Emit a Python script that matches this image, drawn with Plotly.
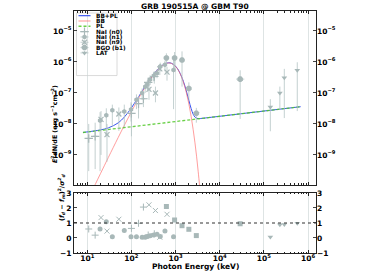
import plotly.graph_objects as go

# ---------------- model curves ----------------
E_tot = [8, 10, 15, 20, 30, 50, 70, 100, 150, 200, 300, 400, 500, 600, 700, 800,
         1000, 1200, 1500, 1750, 2000, 2250, 2500, 2750, 3000, 3250, 3500, 4000, 1e4, 1e5, 6.8e5]
F_tot = [5.32e-9, 5.53e-9, 6.0e-9, 6.43e-9, 7.46e-9, 1.08e-8, 1.70e-8, 3.30e-8, 8.07e-8, 1.54e-7,
         3.59e-7, 5.86e-7, 7.78e-7, 8.98e-7, 9.39e-7, 9.13e-7, 7.30e-7, 5.01e-7, 2.38e-7, 1.17e-7,
         5.77e-8, 3.15e-8, 2.07e-8, 1.67e-8, 1.53e-8, 1.49e-8, 1.49e-8, 1.52e-8, 1.77e-8, 2.61e-8, 3.6e-8]
E_bb = [8, 10, 15, 20, 30, 50, 70, 100, 150, 200, 300, 400, 500, 600, 700, 800,
        1000, 1200, 1500, 1750, 2000, 2250, 2500, 2750, 3000, 3250, 3500, 4000]
F_bb = [1.67e-11, 3.24e-11, 1.08e-10, 2.52e-10, 8.26e-10, 3.61e-9, 9.34e-9, 2.49e-8, 7.2e-8, 1.45e-7,
        3.49e-7, 5.76e-7, 7.67e-7, 8.87e-7, 9.28e-7, 9.01e-7, 7.18e-7, 4.89e-7, 2.25e-7, 1.04e-7,
        4.42e-8, 1.77e-8, 6.7e-9, 2.45e-9, 8.7e-10, 2.97e-10, 1.0e-10, 1.07e-11]
E_pl = [8, 6.8e5]
F_pl = [5.3e-9, 3.6e-8]

# ---------------- data points ----------------
# NaI (n0)
n0_E = [10.8, 15.1, 100, 145, 187, 240, 330]
n0_Elo = [9.5, 13.5, 90, 132, 170, 220, 300]
n0_Ehi = [12.2, 16.8, 111, 158, 205, 262, 360]
n0_F = [3.4e-9, 4.0e-9, 2.2e-8, 4.5e-8, 6.5e-8, 2.2e-7, 3.4e-7]
n0_Flo = [3.0e-10, 3.5e-10, 4e-9, 1.5e-8, 3.5e-8, 1.2e-7, 2.0e-7]
n0_Fhi = [1.0e-8, 1.1e-8, 4.5e-8, 8e-8, 1e-7, 3.2e-7, 5e-7]
n0_res = [0.6, 0.19, 0.64, 0.98, 2.06, 0.2, 0.28]
# NaI (n1)
n1_E = [19.5, 27, 37, 69, 98, 130, 175, 205, 230, 265, 320, 380, 450, 575, 900]
n1_Elo = [17.5, 24.5, 33.5, 62, 89, 118, 160, 188, 210, 242, 292, 346, 410, 525, 800]
n1_Ehi = [21.5, 29.5, 40.5, 76, 107, 142, 190, 222, 250, 288, 348, 414, 490, 625, 1000]
n1_F = [1.3e-8, 1.9e-8, 2.75e-8, 2.5e-8, 2.9e-8, 6e-8, 1.0e-7, 1.6e-7, 1.9e-7, 2.7e-7, 3.6e-7, 4.3e-7,
        7.2e-7, 8.1e-7, 5.5e-7]
n1_Flo = [3e-10, 4e-9, 8e-9, 8e-9, 1.2e-8, 3e-8, 6e-8, 1.0e-7, 1.2e-7, 1.8e-7, 2.4e-7, 3.0e-7, 5e-7, 5e-7, 3e-8]
n1_Fhi = [2.4e-8, 3.2e-8, 4.2e-8, 4.2e-8, 5e-8, 9e-8, 1.4e-7, 2.2e-7, 2.6e-7, 3.7e-7, 4.8e-7, 5.8e-7,
          9.5e-7, 1.1e-6, 1.2e-6]
n1_res = [0.6, 1.09, 0.08, 0.5, 0.08, 0.08, 0.05, 0.05, 0.1, 0.15, 0.2, 0.25, 0.1, 0.46, 0.08]
# NaI (n9)
n9_E = [20.5, 28, 52, 250, 350, 440, 640]
n9_Elo = [18.5, 25.5, 47, 228, 320, 400, 580]
n9_Ehi = [22.5, 30.5, 57, 272, 380, 480, 700]
n9_F = [1.4e-8, 4.5e-9, 2.1e-8, 1.3e-7, 1.0e-7, 6.0e-7, 4.7e-7]
n9_Flo = [1e-9, 6e-10, 6e-9, 6e-8, 5e-8, 3.8e-7, 2.5e-7]
n9_Fhi = [2.6e-8, 1.0e-8, 3.4e-8, 1.9e-7, 1.6e-7, 8.5e-7, 7e-7]
n9_res = [1.36, 0.46, 1.25, 2.21, 1.83, 0.05, 1.58]
# BGO (b1)
b1_E = [620, 950, 1400, 2000, 2950, 2.9e4]
b1_Elo = [540, 830, 1230, 1760, 2600, 2.35e4]
b1_Ehi = [700, 1080, 1590, 2270, 3350, 3.6e4]
b1_F = [1.35e-6, 1.35e-6, 1.15e-6, 1.4e-7, 2.2e-8, 2.8e-7]
b1_Flo = [8.5e-7, 6e-7, 1.6e-7, 6e-8, 1.1e-8, 1.45e-8]
b1_Fhi = [1.9e-6, 2.1e-6, 2.2e-6, 2.2e-7, 3.3e-8, 5.4e-7]
b1_res = [2.1, 1.2, 0.82, 0.58, 0.16, 0.95]
# LAT
lat_E = [1.4e5, 2.3e5, 2.9e5, 5.7e5]
lat_F = [3.5e-8, 1.0e-7, 3.1e-7, 5.4e-7]
lat_Flo = [5.8e-9, 2.9e-8, 1.55e-8, 2.6e-8]
lat_Fhi = [6.3e-8, 1.6e-7, 6.0e-7, 9.8e-7]
lat_res = [0.07, 0.88, 0.9, 0.98]

x_ticks = [1e1, 1e2, 1e3, 1e4, 1e5, 1e6]
x_ticktext = ['10<sup>1</sup>', '10<sup>2</sup>', '10<sup>3</sup>', '10<sup>4</sup>', '10<sup>5</sup>', '10<sup>6</sup>']
y_ticks = [1e-9, 1e-8, 1e-7, 1e-6, 1e-5]
y_ticktext = ['10<sup>−9</sup>', '10<sup>−8</sup>', '10<sup>−7</sup>', '10<sup>−6</sup>', '10<sup>−5</sup>']
r_ticks = [-1, 0, 1, 2, 3]
r_ticktext = ['−1', '0', '1', '2', '3']

legend_names = ['BB+PL', 'BB', 'PL', 'NaI (n0)', 'NaI (n1)', 'NaI (n9)', 'BGO (b1)', 'LAT']

MC = 'rgb(168,184,184)'
EC = 'rgba(175,192,192,0.75)'
FONT = 'DejaVu Sans'
C_TOT = '#3a55f0'
C_BB = 'rgba(255,110,110,0.75)'
C_PL = 'rgba(80,200,40,0.85)'

fig = go.Figure()


def add_data(E, F, Flo, Fhi, symbol, size, Elo=None, Ehi=None, mline=0):
    ex = None
    if Elo is not None:
        ex = dict(type='data', symmetric=False,
                  array=[h - e for h, e in zip(Ehi, E)],
                  arrayminus=[e - l for e, l in zip(E, Elo)],
                  color=EC, thickness=1, width=0)
    fig.add_trace(go.Scatter(
        x=E, y=F, mode='markers',
        marker=dict(symbol=symbol, size=size, color=MC, line=dict(width=mline, color=MC)),
        error_y=dict(type='data', symmetric=False,
                     array=[h - f for h, f in zip(Fhi, F)],
                     arrayminus=[f - l for f, l in zip(F, Flo)],
                     color=EC, thickness=1, width=0),
        error_x=ex, xaxis='x', yaxis='y'))


# model lines
fig.add_trace(go.Scatter(x=E_tot, y=F_tot, mode='lines',
                         line=dict(color=C_TOT, width=1, shape='spline'), xaxis='x', yaxis='y'))
fig.add_trace(go.Scatter(x=E_bb, y=F_bb, mode='lines',
                         line=dict(color=C_BB, width=0.9, shape='spline'), xaxis='x', yaxis='y'))
fig.add_trace(go.Scatter(x=E_pl, y=F_pl, mode='lines',
                         line=dict(color=C_PL, width=1.3, dash='3px,2px'), xaxis='x', yaxis='y'))

SYM = dict(n0=('cross-thin', 6, 1.2), n1=('hexagon', 5, 0), n9=('x-thin', 5, 1.2),
           b1=('octagon', 6, 0), lat=('triangle-down', 5, 0))

add_data(n0_E, n0_F, n0_Flo, n0_Fhi, *SYM['n0'][:2], n0_Elo, n0_Ehi, mline=SYM['n0'][2])
add_data(n1_E, n1_F, n1_Flo, n1_Fhi, *SYM['n1'][:2], n1_Elo, n1_Ehi)
add_data(n9_E, n9_F, n9_Flo, n9_Fhi, *SYM['n9'][:2], n9_Elo, n9_Ehi, mline=SYM['n9'][2])
add_data(b1_E, b1_F, b1_Flo, b1_Fhi, *SYM['b1'][:2], b1_Elo, b1_Ehi)
add_data(lat_E, lat_F, lat_Flo, lat_Fhi, *SYM['lat'][:2])


def add_res(E, R, symbol, size, mline=0):
    fig.add_trace(go.Scatter(x=E, y=R, mode='markers',
                             marker=dict(symbol=symbol, size=size, color=MC, line=dict(width=mline, color=MC)),
                             xaxis='x2', yaxis='y2'))


add_res(n0_E, n0_res, 'cross-thin', 5, 1)
add_res(n1_E, n1_res, 'circle', 5)
add_res(n9_E, n9_res, 'x-thin', 5, 1)
add_res(b1_E, b1_res, 'square', 5)
add_res(lat_E, lat_res, 'triangle-down', 5)

# dummy traces for right-side axes
fig.add_trace(go.Scatter(x=[1e3], y=[1e-7], mode='markers', marker=dict(opacity=0),
                         hoverinfo='skip', xaxis='x', yaxis='y3'))
fig.add_trace(go.Scatter(x=[1e3], y=[1], mode='markers', marker=dict(opacity=0),
                         hoverinfo='skip', xaxis='x2', yaxis='y4'))

# ---- manual legend on a hidden pixel-unit overlay axis pair ----
L_X0, L_Y0, L_DY = 84.5, 17.5, 7.4
leg_y = [L_Y0 + i * L_DY for i in range(len(legend_names))]
fig.add_shape(type='rect', xref='x domain', yref='y domain', x0=0.0103, x1=0.1777, y0=0.629, y1=0.9885,
              line=dict(color='#d0d0d0', width=0.8), fillcolor='rgba(255,255,255,0.85)', layer='below')
for i, (col, dash, w) in enumerate([(C_TOT, 'solid', 1.2), (C_BB, 'solid', 1), (C_PL, '3px,2px', 1.6)]):
    fig.add_shape(type='line', xref='x3', yref='y5', x0=L_X0 - 6, x1=L_X0 + 6, y0=leg_y[i], y1=leg_y[i],
                  line=dict(color=col, width=w, dash=dash), layer='above')
for j, key in enumerate(['n0', 'n1', 'n9', 'b1', 'lat']):
    s, sz, ml = SYM[key]
    yy = leg_y[3 + j]
    fig.add_trace(go.Scatter(x=[L_X0], y=[yy], mode='markers',
                             marker=dict(symbol=s, size=sz, color=MC, line=dict(width=ml, color=MC)),
                             error_y=dict(type='constant', value=3, color=EC, thickness=1, width=0),
                             error_x=dict(type='constant', value=4, color=EC, thickness=1, width=0),
                             xaxis='x3', yaxis='y5', hoverinfo='skip'))
for i, nm in enumerate(legend_names):
    fig.add_annotation(text='<b>' + nm + '</b>', xref='x3', yref='y5', x=93.5, y=leg_y[i],
                       xanchor='left', yanchor='middle', showarrow=False,
                       font=dict(family=FONT, size=5.8, color='black'))

XR = [0.70, 6.18]
YR = [-9.97, -4.355]
minor_x = [m * 10 ** d for d in range(0, 7) for m in range(2, 10)]
tickfont = dict(family=FONT, size=7.5, color='black', weight='bold')
common_x = dict(type='log', range=XR, showline=True, linecolor='#222', linewidth=1, mirror='ticks',
                ticks='inside', ticklen=3, tickcolor='#222', tickvals=x_ticks, ticktext=x_ticktext,
                showgrid=True, gridcolor='rgba(200,210,210,0.6)', gridwidth=1, zeroline=False,
                minor=dict(tickvals=minor_x, ticks='inside', ticklen=1.5, tickcolor='#222', showgrid=False),
                tickfont=tickfont, automargin=False)

fig.update_layout(
    width=374, height=280,
    margin=dict(l=74, r=58, t=11, b=27, autoexpand=False),
    paper_bgcolor='white', plot_bgcolor='white',
    font=dict(family=FONT, size=7, color='black'),
    showlegend=False,
    xaxis=dict(common_x, anchor='y', showticklabels=False, matches='x2'),
    xaxis2=dict(common_x, anchor='y2', showticklabels=True, ticklabelstandoff=-2),
    xaxis3=dict(domain=[0, 1], range=[74, 316], visible=False, anchor='y5', overlaying='x'),
    yaxis5=dict(domain=[0, 1], range=[253, 11], visible=False, anchor='x3', overlaying='y'),
    yaxis=dict(type='log', range=YR, domain=[0.281, 1], anchor='x', showline=True, linecolor='#222',
               linewidth=1, mirror=True, ticks='inside', ticklen=3, tickvals=y_ticks, ticktext=y_ticktext,
               showgrid=False, tickfont=tickfont, zeroline=False, automargin=False),
    yaxis3=dict(type='log', range=YR, overlaying='y', side='right', anchor='x', ticks='inside', ticklen=3,
                tickvals=y_ticks, ticktext=y_ticktext, showgrid=False, tickfont=tickfont, showline=False,
                zeroline=False, automargin=False),
    yaxis2=dict(range=[-1, 3], domain=[0, 0.248], anchor='x2', showline=True, linecolor='#222', linewidth=1,
                mirror=True, ticks='inside', ticklen=3, tickvals=r_ticks, ticktext=r_ticktext,
                showgrid=False, tickfont=tickfont, zeroline=False, automargin=False),
    yaxis4=dict(range=[-1, 3], overlaying='y2', side='right', anchor='x2', ticks='inside', ticklen=3,
                tickvals=r_ticks, ticktext=r_ticktext, showgrid=False, tickfont=tickfont, showline=False,
                zeroline=False, automargin=False),
)

fig.add_shape(type='line', xref='x2 domain', yref='y2', x0=0, x1=1, y0=1, y1=1,
              line=dict(color='#333', width=1.2, dash='dot'))

fig.add_annotation(text='<b>GRB 190515A @ GBM T90</b>', xref='paper', yref='paper', x=0.5, y=1,
                   yshift=5, yanchor='middle', showarrow=False, font=dict(family=FONT, size=7.5))
fig.add_annotation(text='<b>Photon Energy (keV)</b>', xref='paper', yref='paper', x=0.5, y=0,
                   yshift=-13, yanchor='middle', showarrow=False, font=dict(family=FONT, size=7.5))
fig.add_annotation(text='<b><i>E</i><sup>2</sup>dN/dE (erg s<sup>−1</sup>cm<sup>−2</sup>)</b>',
                   xref='paper', yref='paper', x=0, xshift=-26, y=0.70, textangle=-90, showarrow=False,
                   font=dict(family=FONT, size=6.3))
fig.add_annotation(text='<b>(<i>f<sub>d</sub></i> − <i>f<sub>m</sub></i>)<sup>2</sup>/<i>σ<sup>2</sup><sub>d</sub></i></b>',
                   xref='paper', yref='paper', x=0, xshift=-19, y=0.124, textangle=-90, showarrow=False,
                   font=dict(family=FONT, size=6.5))

fig.write_html('out.html', post_script="document.body.style.margin='0px';",
               config={'displayModeBar': False})
